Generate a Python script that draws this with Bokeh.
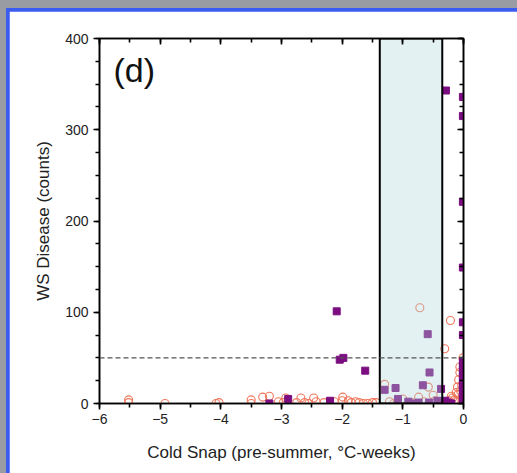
from bokeh.plotting import figure
from bokeh.models import Span, Label, LinearAxis, SingleIntervalTicker, Range1d, CustomJSTickFormatter
from bokeh.layouts import column
from bokeh.embed import file_html
from bokeh.resources import INLINE

# ---- data ----
# purple squares (outside shaded box)
sq_x = [-2.09, -2.04, -1.98, -1.62, -2.89, -3.20, -2.20, -0.29,
        -0.01, -0.01, -0.01, -0.01, -0.01, -0.01,
        -0.30, -0.25, -0.20,
        -0.01, -0.01, -0.01, -0.01, -0.01, -0.01, -0.01, -0.01, -0.01, -0.01, -0.01, -0.01]
sq_y = [101, 48, 50, 36, 5, 0, 3, 343,
        336, 315, 221, 149, 89, 75,
        3, 1, 0,
        2, 6, 10, 14, 18, 22, 26, 30, 34, 38, 42, 46]
# purple squares inside shaded box
sqb_x = [-0.59, -0.56, -0.67, -1.30, -1.12, -1.08, -0.91, -0.37, -0.74, -0.57, -0.43, -0.80]
sqb_y = [76, 34, 20, 15, 17, 5, 2, 16, 1, 1, 3, 0]
# orange open circles
ci_x = [-5.52, -5.52, -4.92, -4.08, -4.03, -3.50, -3.50, -3.31, -3.20, -2.97, -2.93,
        -2.68, -2.62, -2.47, -2.43, -2.30, -2.13, -1.99, -1.90, -1.85, -1.72, -1.58,
        -1.44, -3.05, -2.75, -2.55, -2.00, -1.78, -1.65, -1.50,
        -1.30, -1.22, -1.00, -0.72, -0.74, -0.58, -0.50, -0.47, -0.85, -1.15, -0.65,
        -0.215, -0.31, -0.06, -0.08, -0.10, -0.12, -0.18, -0.24, -0.03, -0.01, -0.06,
        -0.15, -0.28, -0.05, -0.02, -0.09, -0.14, -0.20, -0.33]
ci_y = [4, 1, 0, 0, 1, 4, 0, 7, 8, 1, 6,
        6, 1, 6, 2, 1, 2, 7, 3, 1, 1, 0,
        1, 2, 1, 0, 3, 2, 0, 1,
        21, 2, 5, 105, 7, 18, 9, 3, 1, 0, 2,
        91, 60, 34, 26, 18, 12, 6, 3, 20, 50, 40,
        4, 1, 14, 8, 10, 2, 8, 0]
box_x = [-1.38, -0.35]
box_y = [0, 400]
threshold = 50
x_lim = [-6, 0]
y_lim = [0, 400]

FONT = "Liberation Sans"

p = figure(width=508, height=462, output_backend="svg", toolbar_location=None,
           x_range=Range1d(*x_lim), y_range=Range1d(*y_lim),
           min_border_left=90, min_border_right=54, min_border_top=27, min_border_bottom=70,
           background_fill_color="white", border_fill_color="white")
p.xgrid.visible = False
p.ygrid.visible = False
p.outline_line_color = "black"
p.outline_line_width = 1.5

p.xaxis.ticker = SingleIntervalTicker(interval=1, num_minor_ticks=2)
p.yaxis.ticker = SingleIntervalTicker(interval=100, num_minor_ticks=4)

for ax in (p.xaxis[0], p.yaxis[0]):
    ax.axis_line_color = "black"
    ax.axis_line_width = 1.6
    ax.major_tick_in = 0
    ax.major_tick_out = 6
    ax.minor_tick_in = 0
    ax.minor_tick_out = 4
    ax.major_tick_line_width = 1.6
    ax.minor_tick_line_width = 1.6
    ax.major_label_text_font = FONT
    ax.major_label_text_font_size = "14px"
    ax.major_label_text_color = "#222222"
    ax.axis_label_text_font = FONT
    ax.axis_label_text_font_size = "17px"
    ax.axis_label_text_font_style = "normal"
    ax.axis_label_text_color = "#222222"

p.xaxis.axis_label = "Cold Snap (pre-summer, \u00b0C-weeks)"
p.yaxis.axis_label = "WS Disease (counts)"
p.xaxis.major_label_standoff = 4
p.yaxis.major_label_standoff = 5
p.xaxis.axis_label_standoff = 16
p.yaxis.axis_label_standoff = 9

top = LinearAxis(ticker=SingleIntervalTicker(interval=1, num_minor_ticks=2),
                 formatter=CustomJSTickFormatter(code="return ''"))
right = LinearAxis(ticker=SingleIntervalTicker(interval=100, num_minor_ticks=4),
                   formatter=CustomJSTickFormatter(code="return ''"))
for ax in (top, right):
    ax.axis_line_color = "black"
    ax.axis_line_width = 1.6
    ax.major_tick_in = 6
    ax.major_tick_out = 0
    ax.minor_tick_in = 4
    ax.minor_tick_out = 0
    ax.major_tick_line_width = 1.6
    ax.minor_tick_line_width = 1.6
p.add_layout(top, "above")
p.add_layout(right, "right")

# points
p.scatter(ci_x, ci_y, marker="circle", size=8, fill_color=None,
          line_color="#f0765a", line_width=1.1)
p.scatter(sq_x + sqb_x, sq_y + sqb_y, marker="square", size=7,
          fill_color="#7b0d80", line_color="#7b0d80")

# shaded box on top (semi-transparent)
p.quad(left=[box_x[0]], right=[box_x[1]], bottom=[box_y[0]], top=[box_y[1]],
       fill_color="#afd7da", fill_alpha=0.35, line_color="black", line_width=2)

p.add_layout(Span(location=threshold, dimension="width", line_dash="5 3",
                  line_color="#555555", line_width=1.3))

p.add_layout(Label(x=-5.77, y=386, text="(d)", text_font=FONT, text_font_size="34px",
                   text_baseline="top", text_color="#111111"))

inner = column(p, styles={"background-color": "#3b5cf0", "padding-left": "3px", "padding-top": "3px"})
outer = column(inner, styles={"background-color": "#9a9ca4", "padding-left": "6px", "padding-top": "8px"})

open("out.html", "w").write(file_html(outer, INLINE))
